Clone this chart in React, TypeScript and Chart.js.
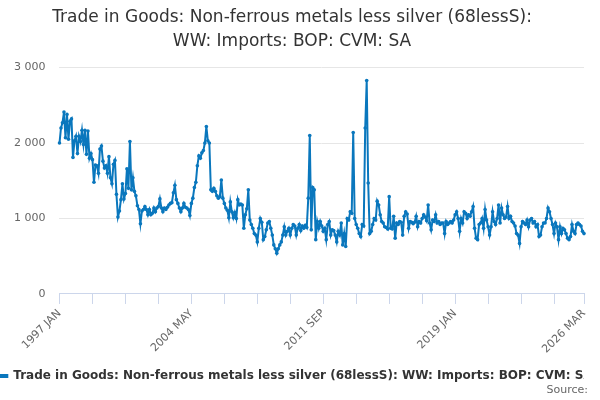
import { useEffect, useRef } from 'react';
import { Chart, registerables } from 'chart.js';

Chart.register(...registerables);

const MONTHS = ['JAN', 'FEB', 'MAR', 'APR', 'MAY', 'JUN', 'JUL', 'AUG', 'SEP', 'OCT', 'NOV', 'DEC'];
const FIRST_YEAR = 1997;

// monthly values, one row per year (1997 .. 2026 Mar)
const imports1997_2001 = [
	2000, 2200, 2270, 2410, 2070, 2380, 2050, 2290, 2320, 1810, 2030, 2090,
	1860, 2090, 2020, 2170, 1980, 2170, 1850, 2160, 1800, 1860, 1780, 1480,
	1710, 1700, 1600, 1920, 1960, 1760, 1670, 1700, 1600, 1820, 1540, 1460,
	1720, 1770, 1320, 1020, 1100, 1250, 1460, 1260, 1330, 1660, 1400, 2020,
	1380, 1540, 1360, 1300, 1170, 1120, 930, 1100, 1120, 1160, 1120, 1050,
];
const imports2002_2006 = [
	1120, 1050, 1070, 1140, 1090, 1140, 1160, 1260, 1140, 1090, 1140, 1120,
	1150, 1180, 1200, 1210, 1340, 1440, 1250, 1200, 1140, 1090, 1140, 1200,
	1150, 1140, 1120, 1040, 1200, 1270, 1410, 1480, 1700, 1830, 1800, 1870,
	1900, 2000, 2220, 2030, 2000, 1380, 1360, 1400, 1360, 1300, 1270, 1290,
	1510, 1270, 1200, 1140, 1110, 1010, 1220, 1090, 1010, 1080, 1000, 1250,
];
const imports2007_2011 = [
	1180, 1190, 1180, 870, 1050, 1130, 1380, 980, 920, 870, 800, 780,
	690, 870, 1000, 950, 720, 760, 850, 940, 960, 870, 780, 650,
	600, 540, 600, 650, 690, 780, 890, 780, 830, 870, 780, 870,
	920, 900, 780, 870, 920, 840, 900, 870, 910, 880, 1270, 2100,
	850, 1410, 1380, 720, 960, 870, 960, 900, 830, 870, 720, 920,
];
const imports2012_2016 = [
	960, 780, 850, 840, 780, 690, 830, 780, 940, 650, 800, 630,
	1000, 980, 1090, 1070, 2140, 1000, 920, 870, 800, 760, 920, 900,
	2200, 2830, 1470, 800, 830, 920, 1000, 980, 1230, 1180, 1050, 960,
	940, 890, 880, 860, 1290, 870, 860, 1030, 740, 940, 920, 960,
	950, 780, 1030, 1090, 1060, 870, 960, 950, 930, 950, 1030, 890,
];
const imports2017_2021 = [
	960, 940, 1000, 1050, 1020, 970, 1180, 940, 850, 980, 960, 1050,
	940, 960, 920, 940, 940, 800, 960, 920, 940, 960, 940, 980,
	1050, 1090, 1000, 830, 1000, 940, 1090, 1070, 1000, 1050, 1030, 1090,
	1160, 870, 740, 720, 920, 940, 1000, 870, 1120, 980, 890, 780,
	890, 1090, 960, 920, 1000, 1180, 940, 1140, 1050, 1000, 1020, 1160,
];
const imports2022_2026 = [
	1000, 1030, 960, 940, 900, 800, 780, 670, 890, 960, 940, 920,
	980, 890, 980, 1000, 940, 960, 890, 920, 760, 780, 890, 940,
	940, 1000, 1140, 1090, 1000, 920, 800, 940, 890, 720, 890, 800,
	870, 850, 800, 740, 720, 760, 920, 830, 800, 920, 940, 920,
	900, 830, 800,
];

const values = [
	...imports1997_2001,
	...imports2002_2006,
	...imports2007_2011,
	...imports2012_2016,
	...imports2017_2021,
	...imports2022_2026,
];
const labels = values.map((_, i) => `${FIRST_YEAR + Math.floor(i / 12)} ${MONTHS[i % 12]}`);

const SERIES_NAME = 'Trade in Goods: Non-ferrous metals less silver (68lessS): WW: Imports: BOP: CVM: SA';
const TITLE_LINES = ['Trade in Goods: Non-ferrous metals less silver (68lessS):', 'WW: Imports: BOP: CVM: SA'];
const CREDIT = 'Source:';
const TICK_STEP = 22; // minor tick marks
const LABEL_STEP = 88; // labelled ticks

const BLUE = '#0a77bd';
const FONT = "'DejaVu Sans', sans-serif";

// "Source:" credit in the bottom right corner
const creditPlugin = {
	id: 'credit',
	afterDraw(chart: any) {
		const ctx = chart.ctx;
		ctx.save();
		ctx.font = `11px ${FONT}`;
		ctx.fillStyle = '#666666';
		ctx.textAlign = 'right';
		ctx.textBaseline = 'middle';
		ctx.fillText(CREDIT, chart.width - 12, chart.height - 10);
		ctx.restore();
	},
};

export default function App() {
	const canvasRef = useRef<HTMLCanvasElement>(null);

	useEffect(() => {
		document.body.style.margin = '0';
		if (!canvasRef.current) return;
		const last = values.length - 1;
		const chart = new Chart(canvasRef.current, {
			type: 'line',
			data: {
				labels,
				datasets: [
					{
						label: SERIES_NAME,
						data: values,
						borderColor: BLUE,
						backgroundColor: BLUE,
						borderWidth: 2,
						pointRadius: 1.8,
						pointBorderWidth: 0,
						pointBackgroundColor: BLUE,
						tension: 0,
					},
				],
			},
			options: {
				animation: false,
				responsive: true,
				maintainAspectRatio: false,
				layout: { padding: { left: 0, right: 16, top: 0, bottom: 8 } },
				plugins: {
					title: {
						display: true,
						text: TITLE_LINES,
						color: '#333333',
						font: { family: FONT, size: 17, weight: 'normal', lineHeight: 1.4 },
						padding: { top: 6, bottom: 14 },
					},
					legend: {
						position: 'bottom',
						labels: {
							color: '#333333',
							font: { family: FONT, size: 12, weight: 'bold' },
							boxWidth: 16,
							boxHeight: 2,
							padding: 11,
						},
					},
					tooltip: { enabled: false },
				},
				scales: {
					x: {
						afterBuildTicks: (scale: any) => {
							scale.ticks = scale.ticks.filter((t: any) => t.value % TICK_STEP === 0 || t.value === last);
						},
						ticks: {
							autoSkip: false,
							minRotation: 45,
							maxRotation: 45,
							color: '#666666',
							font: { family: FONT, size: 11 },
							callback: (v: any) => (v % LABEL_STEP === 0 || v === last ? labels[v] : ''),
						},
						grid: { drawOnChartArea: false, drawTicks: true, tickLength: 10, color: '#ccd6eb' },
						border: { color: '#ccd6eb' },
					},
					y: {
						min: 0,
						max: 3000,
						ticks: {
							stepSize: 1000,
							color: '#666666',
							padding: 14,
							font: { family: FONT, size: 11 },
							callback: (v: any) => String(v).replace(/\B(?=(\d{3})+(?!\d))/g, ' '),
						},
						grid: { color: '#e6e6e6', drawTicks: false },
						border: { display: false },
					},
				},
			},
			plugins: [creditPlugin],
		});
		return () => chart.destroy();
	}, []);

	return (
		<div style={{ width: 600, height: 400, position: 'relative' }}>
			<canvas ref={canvasRef}></canvas>
		</div>
	);
}
